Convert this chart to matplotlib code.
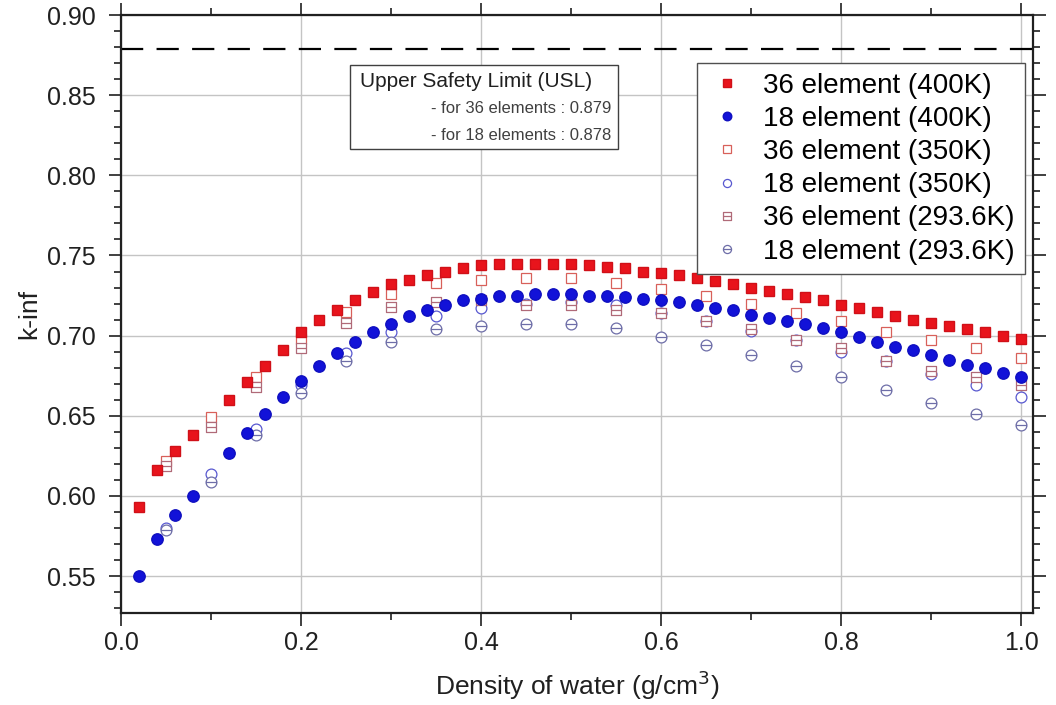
import matplotlib
matplotlib.use("Agg")
import matplotlib.pyplot as plt
import numpy as np
from matplotlib.path import Path
from matplotlib.patches import Rectangle
from matplotlib.ticker import MultipleLocator, FormatStrFormatter

plt.rcParams["font.family"] = ["Liberation Sans", "DejaVu Sans"]

# 400K runs, step 0.02 (the 0.10 point is not visible in the source figure)
x_fine = [0.02, 0.04, 0.06, 0.08, 0.12, 0.14, 0.16, 0.18, 0.20,
          0.22, 0.24, 0.26, 0.28, 0.30, 0.32, 0.34, 0.36, 0.38, 0.40,
          0.42, 0.44, 0.46, 0.48, 0.50, 0.52, 0.54, 0.56, 0.58, 0.60,
          0.62, 0.64, 0.66, 0.68, 0.70, 0.72, 0.74, 0.76, 0.78, 0.80,
          0.82, 0.84, 0.86, 0.88, 0.90, 0.92, 0.94, 0.96, 0.98, 1.00]
k36_400 = [0.593, 0.616, 0.628, 0.638, 0.660, 0.671, 0.681, 0.691, 0.702,
           0.710, 0.716, 0.722, 0.727, 0.732, 0.735, 0.738, 0.740, 0.742, 0.744,
           0.745, 0.745, 0.745, 0.745, 0.745, 0.744, 0.743, 0.742, 0.740, 0.739,
           0.738, 0.736, 0.734, 0.732, 0.730, 0.728, 0.726, 0.724, 0.722, 0.719,
           0.717, 0.715, 0.712, 0.710, 0.708, 0.706, 0.704, 0.702, 0.700, 0.698]
k18_400 = [0.550, 0.573, 0.588, 0.600, 0.627, 0.639, 0.651, 0.662, 0.672,
           0.681, 0.689, 0.696, 0.702, 0.707, 0.712, 0.716, 0.719, 0.722, 0.723,
           0.725, 0.725, 0.726, 0.726, 0.726, 0.725, 0.725, 0.724, 0.723, 0.722,
           0.721, 0.719, 0.717, 0.716, 0.713, 0.711, 0.709, 0.707, 0.705, 0.702,
           0.699, 0.696, 0.693, 0.691, 0.688, 0.685, 0.682, 0.680, 0.677, 0.674]

# 350K and 293.6K runs, step 0.05
x_coarse = [0.05, 0.10, 0.15, 0.20, 0.25, 0.30, 0.35, 0.40, 0.45, 0.50,
            0.55, 0.60, 0.65, 0.70, 0.75, 0.80, 0.85, 0.90, 0.95, 1.00]
k36_350 = [0.622, 0.649, 0.674, 0.698, 0.715, 0.726, 0.733, 0.735, 0.736, 0.736,
           0.733, 0.729, 0.725, 0.720, 0.714, 0.709, 0.702, 0.697, 0.692, 0.686]
k18_350 = [0.580, 0.614, 0.642, 0.669, 0.689, 0.702, 0.712, 0.717, 0.720, 0.721,
           0.719, 0.714, 0.709, 0.703, 0.697, 0.690, 0.684, 0.676, 0.669, 0.662]
k36_293 = [0.619, 0.643, 0.668, 0.692, 0.708, 0.718, 0.721, 0.722, 0.719, 0.719,
           0.716, 0.714, 0.709, 0.704, 0.697, 0.692, 0.684, 0.678, 0.674, 0.669]
k18_293 = [0.579, 0.609, 0.638, 0.664, 0.684, 0.696, 0.704, 0.706, 0.707, 0.707,
           0.705, 0.699, 0.694, 0.688, 0.681, 0.674, 0.666, 0.658, 0.651, 0.644]

usl_36 = 0.879
usl_18 = 0.878


def split_marker(base):
    # outline marker with a horizontal bar through the middle
    bar = Path([(-1.0, 0.0), (1.0, 0.0)], [Path.MOVETO, Path.LINETO])
    verts = np.concatenate([base.vertices, bar.vertices])
    codes = np.concatenate([base.codes, bar.codes])
    return Path(verts, codes)


square_path = Path([(-1, -1), (1, -1), (1, 1), (-1, 1), (-1, -1)],
                   [Path.MOVETO, Path.LINETO, Path.LINETO, Path.LINETO, Path.CLOSEPOLY])
square_bar = split_marker(square_path)
circle_bar = split_marker(Path.unit_circle())

fig = plt.figure(figsize=(10.56, 7.05), dpi=100)
ax = fig.add_axes([0.1146, 0.1305, 0.8634, 0.8482])

ax.plot(x_coarse, k36_350, ls="none", marker="s", ms=7.2, mfc="white", mec="#d8605a",
        mew=0.9, zorder=3, label="36 element (350K)")
ax.plot(x_coarse, k18_350, ls="none", marker="o", ms=7.8, mfc="white", mec="#5858d0",
        mew=0.9, zorder=3, label="18 element (350K)")
ax.plot(x_coarse, k36_293, ls="none", marker=square_bar, ms=7.2, mfc="white", mec="#b06a78",
        mew=0.9, zorder=3, label="36 element (293.6K)")
ax.plot(x_coarse, k18_293, ls="none", marker=circle_bar, ms=7.8, mfc="white", mec="#6e6ea8",
        mew=0.9, zorder=3, label="18 element (293.6K)")
ax.plot(x_fine, k36_400, ls="none", marker="s", ms=7.5, color="#e8141c", mec="#d01018",
        zorder=4, label="36 element (400K)")
ax.plot(x_fine, k18_400, ls="none", marker="o", ms=8.2, color="#1212d8", mec="#1010c0",
        zorder=4, label="18 element (400K)")

ax.axhline(usl_36, color="black", lw=1.6, dashes=(10, 6), zorder=2)

ax.set_xlim(0, 1.013)
ax.set_ylim(0.527, 0.90)
ax.xaxis.set_major_locator(MultipleLocator(0.2))
ax.xaxis.set_minor_locator(MultipleLocator(0.1))
ax.yaxis.set_major_locator(MultipleLocator(0.05))
ax.yaxis.set_minor_locator(MultipleLocator(0.01))
ax.xaxis.set_major_formatter(FormatStrFormatter("%.1f"))
ax.yaxis.set_major_formatter(FormatStrFormatter("%.2f"))
ax.tick_params(which="both", direction="out", top=True, right=True, colors="#202020",
               labelsize=18, width=1.2)
ax.tick_params(which="major", length=9)
ax.tick_params(which="minor", length=5)
ax.tick_params(axis="x", which="major", pad=4)
ax.tick_params(axis="y", which="major", pad=9)
ax.grid(True, which="major", color="#c4c4c4", lw=1.0, zorder=0)
ax.set_axisbelow(True)
for side in ax.spines.values():
    side.set_linewidth(1.6)
    side.set_color("#202020")

ax.set_xlabel("Density of water (g/cm$^3$)", fontsize=19, labelpad=10, color="#202020")
ax.set_ylabel("k-inf", fontsize=19, labelpad=4, color="#202020")

# order legend entries as in the source
handles, labels = ax.get_legend_handles_labels()
order = [4, 5, 0, 1, 2, 3]
leg = ax.legend([handles[i] for i in order], [labels[i] for i in order],
                loc="upper right", bbox_to_anchor=(0.991, 0.92), borderaxespad=0,
                fontsize=20, markerscale=0.75, labelspacing=0.26, handlelength=1.5,
                handletextpad=0.55, borderpad=0.35, fancybox=False, framealpha=1,
                edgecolor="#505050")
leg.get_frame().set_linewidth(1.0)

# USL annotation box
ax.add_patch(Rectangle((0.251, 0.776), 0.294, 0.141, transform=ax.transAxes,
                       facecolor="white", edgecolor="#404040", lw=1.0, zorder=5))
ax.text(0.262, 0.889, "Upper Safety Limit (USL)", transform=ax.transAxes,
        fontsize=15, va="center", ha="left", color="#202020", zorder=6)
ax.text(0.538, 0.843, f"- for 36 elements : {usl_36:.3f}", transform=ax.transAxes,
        fontsize=12, va="center", ha="right", color="#404040", zorder=6)
ax.text(0.538, 0.799, f"- for 18 elements : {usl_18:.3f}", transform=ax.transAxes,
        fontsize=12, va="center", ha="right", color="#404040", zorder=6)

fig.savefig("out.png", dpi=100)
